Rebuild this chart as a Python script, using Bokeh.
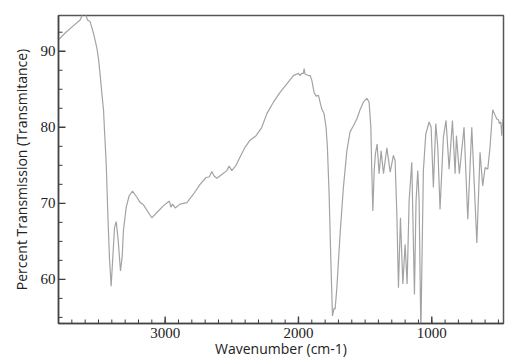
from bokeh.plotting import figure
from bokeh.models import Range1d, FixedTicker
from bokeh.embed import file_html
from bokeh.resources import INLINE

# IR spectrum (wavenumber in cm-1, percent transmittance)
wavenumber = [3800, 3750, 3698, 3638, 3610, 3600, 3583, 3563, 3538, 3512, 3500, 3487,
              3475, 3462, 3455, 3442, 3430, 3418, 3405, 3390, 3380, 3367, 3352, 3335,
              3322, 3313, 3292, 3270, 3245, 3212, 3187, 3163, 3100, 3062, 3012, 2968,
              2957, 2945, 2925, 2888, 2837, 2788, 2738, 2693, 2668, 2650, 2633, 2612,
              2575, 2537, 2520, 2500, 2468, 2438, 2400, 2363, 2318, 2275, 2237, 2188,
              2138, 2087, 2038, 2000, 1988, 1975, 1963, 1958, 1950, 1925, 1913, 1900,
              1883, 1868, 1850, 1838, 1825, 1808, 1793, 1783, 1770, 1757, 1745, 1733,
              1725, 1712, 1688, 1663, 1637, 1613, 1588, 1562, 1538, 1513, 1487, 1470,
              1457, 1450, 1442, 1432, 1423, 1410, 1395, 1380, 1362, 1337, 1312, 1288,
              1275, 1262, 1250, 1235, 1217, 1200, 1185, 1170, 1150, 1130, 1118, 1105,
              1095, 1082, 1063, 1045, 1020, 1005, 988, 970, 955, 938, 913, 893,
              870, 845, 825, 815, 793, 758, 730, 700, 662, 638, 618, 600,
              580, 563, 543, 525, 512, 500, 493, 482, 475, 467]
transmittance = [91.5, 92.4, 93.2, 94.1, 95.2, 95.2, 94.1, 93.9, 92.4, 90.4, 89.0, 86.8,
                 84.5, 82.2, 79.6, 75.2, 68.6, 62.9, 59.1, 63.7, 66.8, 67.6, 65.1, 61.1,
                 63.1, 66.4, 69.5, 71.0, 71.6, 70.8, 70.1, 69.8, 68.1, 68.8, 69.7, 70.3,
                 69.5, 69.9, 69.4, 69.9, 70.1, 71.2, 72.5, 73.4, 73.5, 74.2, 73.6, 73.3,
                 73.8, 74.3, 74.9, 74.3, 75.0, 76.1, 77.4, 78.3, 78.9, 80.0, 81.8, 83.3,
                 84.6, 85.7, 86.8, 87.1, 86.8, 87.1, 87.1, 87.7, 87.0, 86.8, 86.8, 86.2,
                 84.6, 84.1, 84.2, 83.3, 82.4, 81.8, 80.0, 77.4, 71.2, 62.4, 55.2, 56.2,
                 56.1, 58.9, 65.9, 72.1, 76.9, 79.4, 80.2, 81.1, 82.3, 83.3, 83.8, 83.3,
                 80.0, 74.3, 69.0, 74.3, 76.5, 77.8, 73.9, 76.9, 73.9, 77.3, 74.1, 76.3,
                 75.6, 68.6, 58.9, 68.1, 59.4, 64.6, 59.4, 70.3, 75.4, 58.0, 70.3, 74.3,
                 70.3, 53.0, 74.3, 79.1, 80.7, 80.0, 72.1, 80.5, 77.4, 69.2, 78.7, 80.9,
                 74.5, 80.9, 73.9, 78.9, 73.9, 80.0, 67.9, 80.0, 64.8, 76.7, 72.3, 74.7,
                 74.5, 77.4, 82.3, 81.6, 81.1, 81.0, 80.5, 80.7, 78.9, 81.1]

x_major = [1000, 2000, 3000]
x_minor = list(range(500, 3801, 100))
y_major = [60, 70, 80, 90]
y_minor = [55, 57.5, 62.5, 65, 67.5, 72.5, 75, 77.5, 82.5, 85, 87.5, 92.5]

X_START, X_END = 3800, 462
Y_START, Y_END = 54.2, 94.7

W, H = 517, 361
B_LEFT, B_RIGHT, B_TOP, B_BOTTOM = 58, 14, 15, 38

p = figure(width=W, height=H, output_backend="svg", toolbar_location=None,
           x_range=Range1d(X_START, X_END), y_range=Range1d(Y_START, Y_END),
           x_axis_label="Wavenumber (cm-1)",
           y_axis_label="Percent Transmission (Transmitance)",
           min_border_left=B_LEFT, min_border_right=B_RIGHT,
           min_border_top=B_TOP, min_border_bottom=B_BOTTOM)

p.line(wavenumber, transmittance, line_color="#a3a3a3", line_width=1.2)

# inward tick marks: pixel lengths converted to data units of each axis
frame_w = W - B_LEFT - B_RIGHT
frame_h = H - B_TOP - B_BOTTOM
px_x = (X_START - X_END) / frame_w
px_y = (Y_END - Y_START) / frame_h
tick_color = "#3c3c3c"
p.segment(x0=x_major, y0=[Y_START] * len(x_major), x1=x_major,
          y1=[Y_START + 7 * px_y] * len(x_major), line_color=tick_color, line_width=1.4)
p.segment(x0=x_minor, y0=[Y_START] * len(x_minor), x1=x_minor,
          y1=[Y_START + 4 * px_y] * len(x_minor), line_color=tick_color, line_width=1.0)
p.segment(x0=[X_START] * len(y_major), y0=y_major, x1=[X_START - 7 * px_x] * len(y_major),
          y1=y_major, line_color=tick_color, line_width=1.4)
p.segment(x0=[X_START] * len(y_minor), y0=y_minor, x1=[X_START - 4 * px_x] * len(y_minor),
          y1=y_minor, line_color=tick_color, line_width=1.0)

p.grid.visible = False
p.outline_line_color = "#555555"
p.outline_line_width = 1.5
p.background_fill_color = "white"
p.border_fill_color = "white"

p.xaxis.ticker = FixedTicker(ticks=x_major, minor_ticks=[])
p.yaxis.ticker = FixedTicker(ticks=y_major, minor_ticks=[])

for ax in (p.xaxis[0], p.yaxis[0]):
    ax.axis_line_color = "#444444"
    ax.axis_line_width = 1.5
    ax.major_tick_line_color = None
    ax.minor_tick_line_color = None
    ax.major_tick_in = 0
    ax.major_tick_out = 0
    ax.minor_tick_in = 0
    ax.minor_tick_out = 0
    ax.major_label_text_font = "Liberation Serif"
    ax.major_label_text_font_size = "15px"
    ax.major_label_text_color = "#222222"
    ax.axis_label_text_font = "Open Sans"
    ax.axis_label_text_font_size = "14px"
    ax.axis_label_text_font_style = "normal"
    ax.axis_label_text_color = "#222222"

p.xaxis[0].major_label_standoff = 4
p.xaxis[0].axis_label_standoff = -2
p.yaxis[0].major_label_standoff = 3
p.yaxis[0].axis_label_standoff = 7

open("out.html", "w").write(file_html(p, INLINE))
